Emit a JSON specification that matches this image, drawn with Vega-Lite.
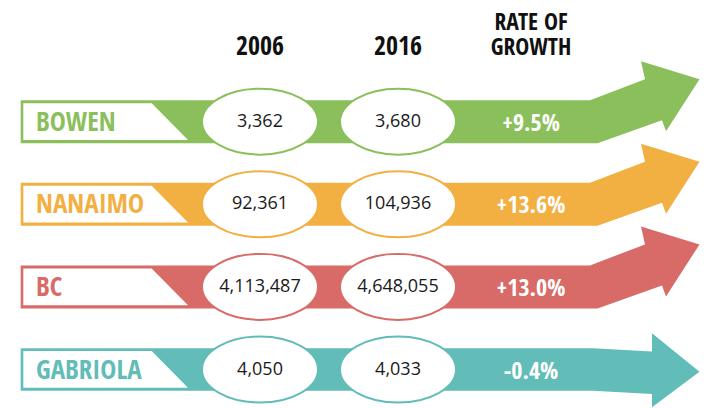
{
  "$schema": "https://vega.github.io/schema/vega-lite/v6.json",
  "width": 708,
  "height": 408,
  "padding": 0,
  "autosize": {"type": "none"},
  "background": "white",
  "config": {"view": {"stroke": null}},
  "datasets": {
    "places": [
      {"place": "BOWEN", "2006": 3362, "2016": 3680, "growth": 9.5, "growthLabel": "+9.5%"},
      {"place": "NANAIMO", "2006": 92361, "2016": 104936, "growth": 13.6, "growthLabel": "+13.6%"},
      {"place": "BC", "2006": 4113487, "2016": 4648055, "growth": 13.0, "growthLabel": "+13.0%"},
      {"place": "GABRIOLA", "2006": 4050, "2016": 4033, "growth": -0.4, "growthLabel": "-0.4%"}
    ],
    "headers": [
      {"col": "2006", "title": "2006"},
      {"col": "2016", "title": "2016"}
    ],
    "growthHeader": [
      {"col": "growth", "title": ["RATE OF", "GROWTH"]}
    ]
  },
  "data": {"name": "places"},
  "layer": [
    {
      "mark": {"type": "point", "filled": true, "opacity": 1, "size": 4, "strokeWidth": 0},
      "encoding": {
        "x": {"datum": "2006", "type": "nominal", "scale": {"type": "point", "domain": ["2006", "2016", "growth"], "range": [260, 536], "padding": 0}, "axis": null},
        "y": {"field": "place", "type": "nominal", "scale": {"type": "point", "domain": ["header", "BOWEN", "NANAIMO", "BC", "GABRIOLA"], "range": [39, 369.5], "padding": 0}, "axis": null},
        "color": {"field": "place", "type": "nominal", "scale": {"domain": ["BOWEN", "NANAIMO", "BC", "GABRIOLA"], "range": ["#8BBF5B", "#F2AF42", "#D86B68", "#62BCB8"]}, "legend": null},
        "shape": {
          "condition": {"test": "datum.growth < 0", "value": "M -239.3 -21.2 L 333 -21.2 L 392 -18 L 392 -36.2 L 439.5 2.2 L 392 37.8 L 392 24.5 L 333 21.2 L -239.3 21.2 Z"},
          "value": "M -239.3 -21.5 L 330 -21.5 L 385 -42.5 L 381 -60.5 L 439.5 -42.5 L 406 9.5 L 402 -1.5 L 337.5 21.5 L -239.3 21.5 Z"
        }
      }
    },
    {
      "mark": {"type": "point", "filled": true, "opacity": 1, "size": 4, "strokeWidth": 0, "color": "white", "shape": "M -236.7 -18.4 L -108.3 -18.4 L -72 18.3 L -236.7 18.3 Z"},
      "encoding": {
        "x": {"datum": "2006", "type": "nominal"},
        "y": {"field": "place", "type": "nominal"}
      }
    },
    {
      "transform": [{"fold": ["2006", "2016"], "as": ["year", "pop"]}],
      "layer": [
        {
          "mark": {"type": "point", "filled": false, "opacity": 1, "size": 4, "strokeWidth": 2, "fill": "white", "fillOpacity": 1, "shape": "M -58 0 A 58 33 0 1 1 58 0 A 58 33 0 1 1 -58 0 Z"},
          "encoding": {
            "x": {"field": "year", "type": "nominal"},
            "y": {"field": "place", "type": "nominal"},
            "color": {"field": "place", "type": "nominal"}
          }
        },
        {
          "mark": {"type": "text", "font": "Open Sans", "fontSize": 18, "color": "#1a1a1a", "baseline": "middle", "align": "center"},
          "encoding": {
            "x": {"field": "year", "type": "nominal"},
            "y": {"field": "place", "type": "nominal"},
            "text": {"field": "pop", "type": "quantitative", "format": ","}
          }
        }
      ]
    },
    {
      "mark": {"type": "text", "font": "Open Sans Condensed, Liberation Sans Narrow, DejaVu Sans Condensed, Open Sans", "fontWeight": "bold", "fontSize": 27, "baseline": "middle", "align": "left", "dx": -224, "dy": 1},
      "encoding": {
        "x": {"datum": "2006", "type": "nominal"},
        "y": {"field": "place", "type": "nominal"},
        "color": {"field": "place", "type": "nominal"},
        "text": {"field": "place", "type": "nominal"}
      }
    },
    {
      "mark": {"type": "text", "font": "Open Sans Condensed, Liberation Sans Narrow, DejaVu Sans Condensed, Open Sans", "fontWeight": "bold", "fontSize": 24, "baseline": "middle", "align": "center", "dx": -5, "dy": 2, "color": "white"},
      "encoding": {
        "x": {"datum": "growth", "type": "nominal"},
        "y": {"field": "place", "type": "nominal"},
        "text": {"field": "growthLabel", "type": "nominal"}
      }
    },
    {
      "data": {"name": "headers"},
      "mark": {"type": "text", "font": "Open Sans Condensed, Liberation Sans Narrow, DejaVu Sans Condensed, Open Sans", "fontWeight": "bold", "fontSize": 26, "baseline": "alphabetic", "align": "center", "dy": 16, "color": "#111111"},
      "encoding": {
        "x": {"field": "col", "type": "nominal"},
        "y": {"datum": "header", "type": "nominal"},
        "text": {"field": "title", "type": "nominal"}
      }
    },
    {
      "data": {"name": "growthHeader"},
      "mark": {"type": "text", "font": "Open Sans Condensed, Liberation Sans Narrow, DejaVu Sans Condensed, Open Sans", "fontWeight": "bold", "fontSize": 23.5, "baseline": "alphabetic", "align": "center", "dx": -5, "dy": -9.5, "lineHeight": 25.5, "color": "#111111"},
      "encoding": {
        "x": {"field": "col", "type": "nominal"},
        "y": {"datum": "header", "type": "nominal"},
        "text": {"field": "title"}
      }
    }
  ]
}
